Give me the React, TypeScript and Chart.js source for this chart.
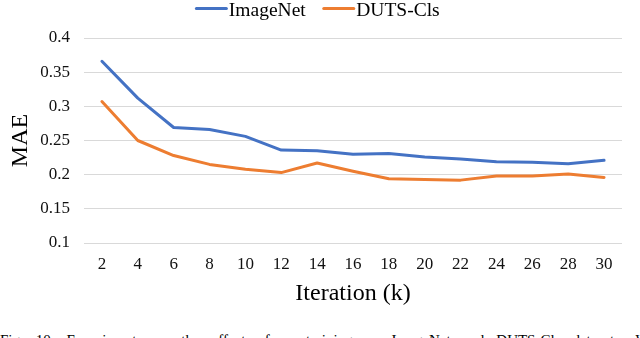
import React, { useEffect, useRef } from "react";
import { Chart, registerables } from "chart.js";

Chart.register(...registerables);

const categories = ["2", "4", "6", "8", "10", "12", "14", "16", "18", "20", "22", "24", "26", "28", "30"];
const imagenetValues = [0.366, 0.312, 0.269, 0.266, 0.256, 0.236, 0.235, 0.23, 0.231, 0.226, 0.223, 0.219, 0.218, 0.216, 0.221];
const dutsClsValues = [0.307, 0.25, 0.228, 0.215, 0.208, 0.203, 0.217, 0.205, 0.194, 0.193, 0.192, 0.198, 0.198, 0.201, 0.196];
const seriesNames = ["ImageNet", "DUTS-Cls"];
const seriesColors = ["#4472C4", "#ED7D31"];
const yMin = 0.1;
const yMax = 0.4;
const yStep = 0.05;
const xTitle = "Iteration (k)";
const yTitle = "MAE";
const caption = "Fig. 10.   Experiments on the effect of pre-training on ImageNet and DUTS-Cls datasets. We";

const FONT = "'Liberation Serif', 'Times New Roman', serif";
Chart.defaults.font.family = FONT;

const legendPlugin = {
  id: "topLegend",
  afterDraw(chart: any) {
    const ctx = chart.ctx;
    ctx.save();
    ctx.font = `19.5px ${FONT}`;
    const items = chart.data.datasets.map((ds: any) => ({
      label: ds.label,
      color: ds.borderColor,
      w: ctx.measureText(ds.label).width,
    }));
    const lineW = 30;
    const gap = 2.5;
    const itemGap = 18;
    const total =
      items.reduce((s: number, it: any) => s + lineW + gap + it.w, 0) + itemGap * (items.length - 1);
    let x = chart.width / 2 - 2 - total / 2;
    const lineY = 8.5;
    const textY = 15.5;
    for (const it of items) {
      ctx.strokeStyle = it.color;
      ctx.lineWidth = 3;
      ctx.lineCap = "round";
      ctx.beginPath();
      ctx.moveTo(x, lineY);
      ctx.lineTo(x + lineW, lineY);
      ctx.stroke();
      ctx.fillStyle = "#000";
      ctx.textBaseline = "alphabetic";
      ctx.textAlign = "left";
      ctx.fillText(it.label, x + lineW + gap, textY);
      x += lineW + gap + it.w + itemGap;
    }
    ctx.restore();
  },
};

export default function App() {
  const canvasRef = useRef<HTMLCanvasElement | null>(null);

  useEffect(() => {
    if (!canvasRef.current) return;
    const chart = new Chart(canvasRef.current, {
      type: "line",
      data: {
        labels: categories,
        datasets: [
          {
            label: seriesNames[0],
            data: imagenetValues,
            borderColor: seriesColors[0],
            backgroundColor: seriesColors[0],
            borderWidth: 3,
            pointRadius: 0,
            tension: 0,
            borderJoinStyle: "round",
            borderCapStyle: "round",
          },
          {
            label: seriesNames[1],
            data: dutsClsValues,
            borderColor: seriesColors[1],
            backgroundColor: seriesColors[1],
            borderWidth: 3,
            pointRadius: 0,
            tension: 0,
            borderJoinStyle: "round",
            borderCapStyle: "round",
          },
        ],
      },
      options: {
        responsive: false,
        animation: false,
        layout: { padding: { top: 38, right: 18, left: 0, bottom: 0 } },
        plugins: {
          legend: { display: false },
          tooltip: { enabled: false },
        },
        scales: {
          x: {
            type: "category",
            offset: true,
            grid: { display: false, drawTicks: false },
            border: { display: false },
            ticks: {
              padding: 11,
              color: "#111",
              font: { family: FONT, size: 17 },
              maxRotation: 0,
              autoSkip: false,
            },
            title: {
              display: true,
              text: xTitle,
              color: "#000",
              font: { family: FONT, size: 24 },
              padding: { top: 0, bottom: 12 },
            },
            afterFit(scale: any) {
              scale.height = 77;
            },
          },
          y: {
            min: yMin,
            max: yMax,
            grid: { color: "#D9D9D9", lineWidth: 1, drawTicks: false },
            border: { display: false },
            ticks: {
              stepSize: yStep,
              padding: 14,
              color: "#111",
              font: { family: FONT, size: 17 },
              callback: (v: any) => String(Number(Number(v).toFixed(2))),
            },
            title: {
              display: true,
              text: yTitle,
              color: "#000",
              font: { family: FONT, size: 24 },
              padding: { top: 6, bottom: 0 },
            },
            afterFit(scale: any) {
              scale.width = 84;
            },
          },
        },
      },
      plugins: [legendPlugin],
    });
    return () => chart.destroy();
  }, []);

  return (
    <div
      style={{
        position: "fixed",
        left: 0,
        top: 0,
        width: 640,
        height: 338,
        overflow: "hidden",
        background: "#fff",
      }}
    >
      <canvas ref={canvasRef} width={640} height={320} style={{ display: "block" }} />
      <div
        style={{
          position: "absolute",
          left: 0,
          top: 333,
          width: 655,
          fontFamily: FONT,
          fontSize: 15,
          lineHeight: "15px",
          textAlign: "justify",
          textAlignLast: "justify" as any,
          color: "#000",
        }}
      >
        {caption}
      </div>
    </div>
  );
}
